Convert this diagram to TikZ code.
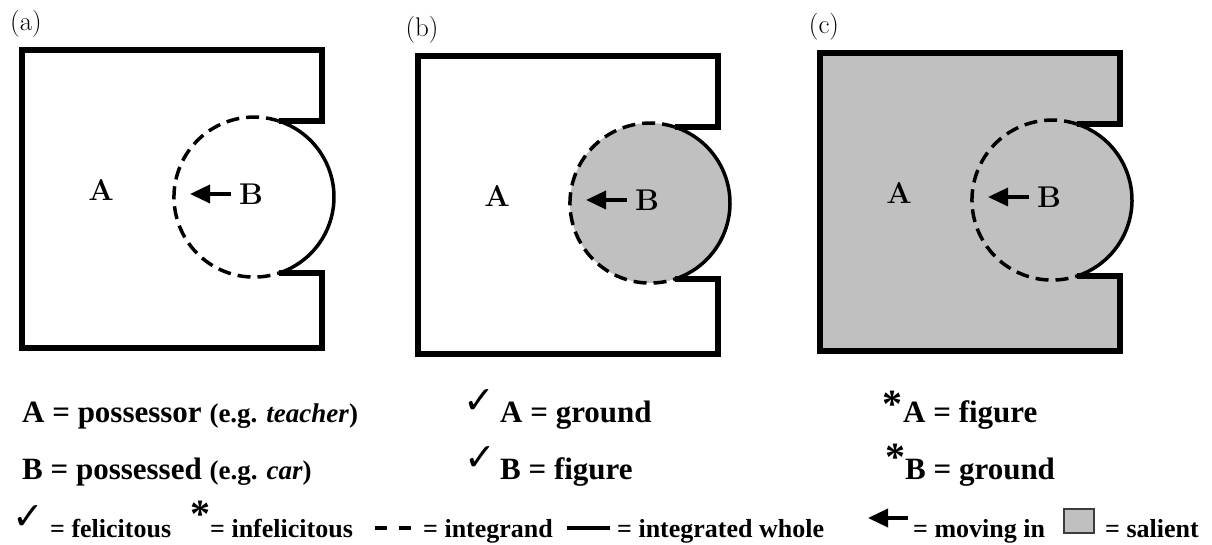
\documentclass[tikz,border=0pt]{standalone}
\usepackage{fontspec}
\usepackage{xcolor}
\usepackage{tikz}
\usetikzlibrary{arrows.meta, positioning}
\newfontfamily\tnr{Liberation Serif}
\newfontfamily\djv{DejaVu Sans}
\definecolor{salient}{RGB}{192, 192, 192}
\definecolor{keyedge}{RGB}{60, 60, 60}
\tikzset{
	outline/.style={line width=5.5pt, line join=miter},
	whole/.style={line width=3.5pt},
	integrand/.style={line width=3.5pt, dash pattern=on 13pt off 7pt},
	movein/.style={line width=3.5pt, -{Triangle[length=20pt, width=18pt]}},
	lettr/.style={inner sep=0pt, font=\bfseries\fontsize{30}{30}\selectfont},
	panellabel/.style={inner sep=0pt, font=\fontsize{27}{30}\selectfont},
	defline/.style={anchor=base west, inner sep=0pt, font=\tnr\bfseries\fontsize{31}{36}\selectfont},
	keyline/.style={anchor=base west, inner sep=0pt, font=\tnr\bfseries\fontsize{26}{30}\selectfont},
	okmark/.style={inner sep=0pt, font=\djv\bfseries\fontsize{38}{38}\selectfont},
	badmark/.style={anchor=base, inner sep=0pt, font=\tnr\bfseries\fontsize{40}{40}\selectfont}
}

\begin{document}
\begin{tikzpicture}[x=1pt, y=1pt]
	\useasboundingbox (0,0) rectangle (1212,545);
	% the three panels
	\foreach \px/\py/\mode/\lab in {22/50/0/a, 418/56/1/b, 820/53/2/c}{
		\begin{scope}[shift={(\px,545-\py)}]
			\coordinate (C\lab) at (232,-147);
			\ifnum\mode=1
				\fill[salient] (C\lab) circle[radius=80pt];
			\fi
			\ifnum\mode=2
				\fill[salient] (256.7,-71) arc[start angle=72, end angle=-72, radius=80pt]
					-- (300,-223.2) -- (300,-298) -- (0,-298) -- (0,0) -- (300,0) -- (300,-71) -- cycle;
			\fi
			\draw[outline] (256.7,-71) -- (300,-71) -- (300,0) -- (0,0) -- (0,-298)
				-- (300,-298) -- (300,-223.2) -- (256.7,-223.2);
			\draw[whole] (256.7,-71) arc[start angle=72, end angle=-72, radius=80pt];
			\draw[integrand] (256.7,-71) arc[start angle=72, end angle=288, radius=80pt];
			\node[lettr] (A\lab) at (79,-140) {A};
			\node[lettr, outer sep=8pt] (B\lab) at (229,-144) {B};
			\coordinate (tip\lab) at (168,-144);
			\draw[movein] (B\lab.west) -- (tip\lab);
			\node[panellabel] (lab\lab) at (4,26) {(\lab)};
		\end{scope}
	}
	% definitions under the panels
	\node[defline] (possessor) at (22,122) {A = possessor {\fontsize{27}{30}\selectfont (e.g. \textit{teacher})}};
	\node[defline] (possessed) at (22,65) {B = possessed {\fontsize{27}{30}\selectfont (e.g. \textit{car})}};
	\node[okmark] (okA) at (479,143.5) {✓};
	\node[defline] (groundA) at (500,122) {A = ground};
	\node[okmark] (okB) at (480,86.5) {✓};
	\node[defline] (figureB) at (500,65) {B = figure};
	\node[badmark] (badA) at (892,127) {*};
	\node[defline] (figureA) at (903,122) {A = figure};
	\node[badmark] (badB) at (895,74) {*};
	\node[defline] (groundB) at (905,65) {B = ground};
	% key
	\node[okmark] (okkey) at (28.5,27.5) {✓};
	\node[keyline] (felicitous) at (50,7) {= felicitous};
	\node[badmark] (badkey) at (200,17) {*};
	\node[keyline] (infelicitous) at (210,7) {= infelicitous};
	\coordinate (dashL) at (375,17);
	\coordinate (dashR) at (411,17);
	\draw[line width=4pt, dash pattern=on 12pt off 12pt] (dashL) -- (dashR);
	\node[keyline] (integrand) at (423,7) {= integrand};
	\coordinate (wholeL) at (567,17);
	\coordinate (wholeR) at (610,17);
	\draw[line width=4pt] (wholeL) -- (wholeR);
	\node[keyline] (integrated) at (617,7) {= integrated whole};
	\coordinate (movetail) at (908,27);
	\coordinate (movetip) at (868,27);
	\draw[movein] (movetail) -- (movetip);
	\node[keyline] (moving) at (913,7) {= moving in};
	\node[draw=keyedge, fill=salient, line width=1.5pt, minimum width=30pt, minimum height=24pt, inner sep=0pt] (salientkey) at (1079,24) {};
	\node[keyline] (salienttext) at (1105,7) {= salient};
\end{tikzpicture}
\end{document}
